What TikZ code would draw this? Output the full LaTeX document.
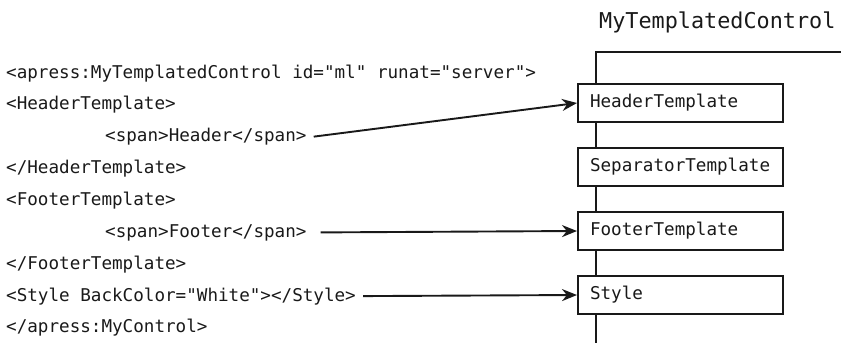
\documentclass[tikz,border=0pt]{standalone}
\usepackage{fontspec}
\setmonofont{DejaVu Sans Mono}
\usetikzlibrary{arrows.meta}
\begin{document}
\begin{tikzpicture}[x=1pt,y=-1pt,
  code/.style={font=\fontsize{17.6}{20}\selectfont\ttfamily, inner sep=0pt, anchor=base west, text=black!90},
  tbox/.style={draw=black!90, line width=2pt, fill=white, minimum height=38pt,
    text width=181pt, inner xsep=12pt, inner ysep=0pt, anchor=west, align=left,
    font=\fontsize{17.6}{20}\selectfont\ttfamily, text=black!90},
  conn/.style={line width=1.9pt, draw=black!90, -{Stealth[length=15pt,width=12pt]}},
  trunk/.style={line width=2pt, draw=black!90}]
\useasboundingbox (0,0) rectangle (841,343);
% title
\node[code, font=\fontsize{21.8}{24}\selectfont\ttfamily] (title) at (599,28) {MyTemplatedControl};
% trunk
\coordinate (tl) at (596,52);
\coordinate (tr) at (841,52);
\coordinate (bot) at (596,343);
\draw[trunk] (tr) -- (tl) -- (bot);
% boxes
\node[tbox] (hdr) at (577,103) {HeaderTemplate};
\node[tbox] (sep) at (577,167) {SeparatorTemplate};
\node[tbox] (ftr) at (577,231) {FooterTemplate};
\node[tbox] (sty) at (577,295) {Style};
% code lines
\node[code] (l1) at (6,78) {<apress:MyTemplatedControl id="ml" runat="server">};
\node[code] (l2) at (6,109.5) {<HeaderTemplate>};
\node[code] (l3) at (6,141.5) {\hspace*{99pt}<span>Header</span>};
\node[code] (l4) at (6,173) {</HeaderTemplate>};
\node[code] (l5) at (6,205) {<FooterTemplate>};
\node[code] (l6) at (6,237) {\hspace*{99pt}<span>Footer</span>};
\node[code] (l7) at (6,269) {</FooterTemplate>};
\node[code] (l8) at (6,301) {<Style BackColor="White"></Style>};
\node[code] (l9) at (6,332) {</apress:MyControl>};
% connectors
\draw[conn] ([xshift=7pt]l3.east) -- (hdr.west);
\draw[conn] ([xshift=14pt]l6.east) -- (ftr.west);
\draw[conn] ([xshift=7pt]l8.east) -- (sty.west);
\end{tikzpicture}
\end{document}
